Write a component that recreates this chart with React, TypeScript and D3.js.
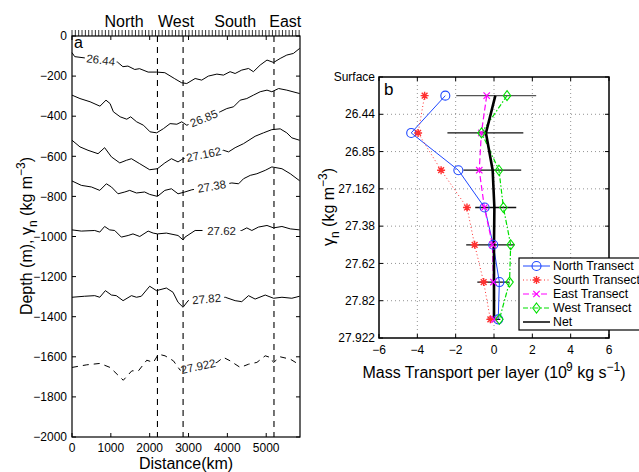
import React, { useRef, useEffect } from "react";
import * as d3 from "d3";

const W = 639;
const H = 472;
const FONT = "'Liberation Sans', Arial, Helvetica, sans-serif";

// ---- panel a: isopycnal depths along the section [km, m]
const iso2644: [number, number][] = [
  [0, -83], [70, -103], [1170, -130], [1310, -153], [1440, -150], [1615, -167], [1740, -163],
  [1960, -180], [2175, -180], [2390, -183], [2645, -213], [2820, -233], [2955, -237], [3170, -212],
  [3340, -220], [3510, -200], [3730, -190], [3900, -195], [4070, -178], [4200, -187], [4370, -170],
  [4545, -162], [4670, -178], [4845, -145], [5020, -120], [5190, -132], [5360, -112], [5530, -95],
  [5700, -87], [5860, -62],
];
const iso2685: [number, number][] = [
  [0, -295], [205, -312], [465, -328], [720, -350], [875, -320], [980, -337], [1065, -378],
  [1240, -403], [1410, -415], [1510, -403], [1665, -428], [1840, -445], [2010, -478], [2180, -483],
  [2355, -462], [2525, -437], [2700, -440], [2825, -428], [2955, -445], [3815, -378], [3985, -362],
  [4160, -353], [4330, -320], [4500, -312], [4670, -295], [4845, -278], [5020, -270], [5145, -278],
  [5320, -262], [5530, -270], [5860, -287],
];
const iso27162: [number, number][] = [
  [0, -520], [205, -553], [412, -570], [670, -587], [840, -557], [1015, -603], [1230, -633],
  [1400, -620], [1530, -612], [1745, -637], [2000, -667], [2200, -662], [2390, -633], [2560, -612],
  [2730, -628], [2860, -612], [3900, -570], [4030, -578], [4200, -557], [4415, -537], [4715, -500],
  [4930, -483], [5145, -467], [5360, -463], [5530, -483], [5660, -508], [5860, -520],
];
const iso2738: [number, number][] = [
  [0, -723], [240, -745], [500, -753], [715, -770], [885, -737], [1015, -753], [1185, -787],
  [1360, -778], [1485, -770], [1660, -783], [1870, -778], [2000, -790], [2200, -800], [2390, -770],
  [2560, -762], [2730, -787], [2905, -778], [3085, -767], [4115, -733], [4290, -737], [4415, -712],
  [4590, -695], [4760, -687], [4975, -670], [5145, -653], [5405, -662], [5620, -687], [5860, -722],
];
const iso2762: [number, number][] = [
  [0, -967], [240, -973], [585, -970], [715, -978], [840, -950], [970, -967], [1100, -970],
  [1270, -1003], [1445, -995], [1570, -987], [1745, -1000], [1960, -973], [2090, -983], [2200, -987],
  [2430, -983], [2730, -995], [2860, -1017], [2910, -1003], [3170, -970], [4370, -970], [4500, -957],
  [4630, -970], [4800, -953], [5020, -945], [5190, -957], [5405, -950], [5620, -962], [5860, -967],
];
const iso2782: [number, number][] = [
  [0, -1303], [325, -1298], [585, -1295], [715, -1303], [860, -1270], [1015, -1292], [1140, -1295],
  [1315, -1320], [1530, -1295], [1660, -1303], [1785, -1298], [2000, -1248], [2175, -1270],
  [2430, -1257], [2600, -1278], [2730, -1328], [2860, -1353], [2990, -1320], [3945, -1303],
  [4200, -1320], [4370, -1325], [4545, -1295], [4715, -1312], [4975, -1292], [5190, -1308],
  [5405, -1303], [5660, -1308], [5860, -1298],
];
const iso27922: [number, number][] = [
  [0, -1653], [380, -1640], [720, -1633], [980, -1653], [1320, -1717], [1540, -1670], [1710, -1670],
  [1925, -1617], [2095, -1628], [2225, -1587], [2395, -1595], [2610, -1620], [2785, -1667],
  [3730, -1628], [3900, -1603], [4070, -1620], [4330, -1653], [4545, -1637], [4760, -1628],
  [4975, -1595], [5100, -1603], [5190, -1628], [5360, -1600], [5620, -1612], [5860, -1640],
];
const isoLabels = ["26.44", "26.85", "27.162", "27.38", "27.62", "27.82", "27.922"];
const labelGaps: [number, number][] = [
  [330, 1150], [3000, 3790], [2900, 3880], [3140, 4050], [3360, 4340], [3010, 3920], [2800, 3700],
];
const sectionNames = ["North", "West", "South", "East"];
const sectionLabelKm = [1340, 2680, 4200, 5490];
const sectionBreaksKm = [2200, 2860, 5200];
const distTicks = [0, 1000, 2000, 3000, 4000, 5000];
const depthTicks = [0, -200, -400, -600, -800, -1000, -1200, -1400, -1600, -1800, -2000];
const stationStepKm = 86;

// ---- panel b: transport per density layer (10^9 kg/s)
const densityTicks = ["Surface", "26.44", "26.85", "27.162", "27.38", "27.62", "27.82", "27.922"];
const northT = [-2.54, -4.32, -1.86, -0.49, -0.04, 0.28, 0.22];
const southT = [-3.62, -3.96, -2.76, -1.41, -1.01, -0.54, -0.19];
const eastT = [-0.38, -0.66, -0.77, -0.5, -0.08, -0.03, 0.02];
const westT = [0.68, -0.65, 0.26, 0.49, 0.87, 0.81, 0.28];
const netT = [0.07, -0.42, -0.07, 0.02, 0.0, 0.0, 0.0];
const errLo = [-1.97, -2.43, -1.6, -0.98, -1.45, -0.87, -0.36];
const errHi = [2.2, 1.53, 1.42, 1.16, 1.06, 0.8, 0.33];
const transportTicks = [-6, -4, -2, 0, 2, 4, 6];

const minus = (v: number) => (v < 0 ? "\u2212" + Math.abs(v) : String(v));

function marker(g: any, kind: string, x: number, y: number, color: string) {
  if (kind === "circle") {
    g.append("circle").attr("cx", x).attr("cy", y).attr("r", 4.5)
      .attr("fill", "none").attr("stroke", color).attr("stroke-width", 1.1);
  } else if (kind === "diamond") {
    const s = 5;
    g.append("path").attr("d", `M${x},${y - s}L${x + s * 0.75},${y}L${x},${y + s}L${x - s * 0.75},${y}Z`)
      .attr("fill", "none").attr("stroke", color).attr("stroke-width", 1.1);
  } else if (kind === "x") {
    const s = 3.2;
    g.append("path").attr("d", `M${x - s},${y - s}L${x + s},${y + s}M${x - s},${y + s}L${x + s},${y - s}`)
      .attr("stroke", color).attr("stroke-width", 1.2);
  } else if (kind === "star") {
    const s = 4, d = s * 0.72;
    g.append("path")
      .attr("d", `M${x - s},${y}L${x + s},${y}M${x},${y - s}L${x},${y + s}M${x - d},${y - d}L${x + d},${y + d}M${x - d},${y + d}L${x + d},${y - d}`)
      .attr("stroke", color).attr("stroke-width", 1.4);
  }
}

function drawPanelA(g: any) {
  const xa = d3.scaleLinear().domain([0, 5870]).range([72, 300]);
  const ya = d3.scaleLinear().domain([0, -2000]).range([36, 437]);
  const line = d3.line<[number, number]>().x(d => xa(d[0])).y(d => ya(d[1]));

  // station ticks along the top
  g.selectAll(".stn").data(d3.range(0, 5870, stationStepKm)).join("line")
    .attr("x1", (d: number) => xa(d)).attr("x2", (d: number) => xa(d))
    .attr("y1", 30).attr("y2", 36).attr("stroke", "#000").attr("stroke-width", 0.8);

  g.selectAll(".sec").data(sectionNames).join("text")
    .attr("x", (d: string, i: number) => xa(sectionLabelKm[i])).attr("y", 27)
    .attr("text-anchor", "middle").attr("font-size", 16).text((d: string) => d);

  // section boundaries
  g.selectAll(".brk").data(sectionBreaksKm).join("line")
    .attr("x1", (d: number) => xa(d)).attr("x2", (d: number) => xa(d))
    .attr("y1", 36).attr("y2", 437)
    .attr("stroke", "#000").attr("stroke-width", 1.1).attr("stroke-dasharray", "6,5");

  const isos = [iso2644, iso2685, iso27162, iso2738, iso2762, iso2782, iso27922];
  isos.forEach((pts, i) => {
    const at = d3.scaleLinear().domain(pts.map(p => p[0])).range(pts.map(p => p[1]));
    const [g0, g1] = labelGaps[i];
    const before: [number, number][] = [...pts.filter(p => p[0] < g0), [g0, at(g0)]];
    const after: [number, number][] = [[g1, at(g1)], ...pts.filter(p => p[0] > g1)];
    [before, after].forEach(seg => {
      g.append("path").attr("d", line(seg)).attr("fill", "none")
        .attr("stroke", "#000").attr("stroke-width", 1)
        .attr("stroke-dasharray", i === 6 ? "6,5" : null);
    });
    const x0 = xa(g0), y0 = ya(at(g0)), x1 = xa(g1), y1 = ya(at(g1));
    const ang = (Math.atan2(y1 - y0, x1 - x0) * 180) / Math.PI;
    g.append("text")
      .attr("transform", `translate(${(x0 + x1) / 2},${(y0 + y1) / 2}) rotate(${ang})`)
      .attr("text-anchor", "middle").attr("dy", "0.35em").attr("font-size", 11.5)
      .attr("fill", "#222").text(isoLabels[i]);
  });

  // box and ticks
  g.append("rect").attr("x", 72).attr("y", 36).attr("width", 228).attr("height", 401)
    .attr("fill", "none").attr("stroke", "#000").attr("stroke-width", 1.2);
  distTicks.forEach(t => {
    g.append("line").attr("x1", xa(t)).attr("x2", xa(t)).attr("y1", 437).attr("y2", 433).attr("stroke", "#000");
    g.append("line").attr("x1", xa(t)).attr("x2", xa(t)).attr("y1", 36).attr("y2", 40).attr("stroke", "#000");
    g.append("text").attr("x", xa(t)).attr("y", 452).attr("text-anchor", "middle")
      .attr("font-size", 12).text(String(t));
  });
  depthTicks.forEach(t => {
    g.append("line").attr("x1", 72).attr("x2", 76).attr("y1", ya(t)).attr("y2", ya(t)).attr("stroke", "#000");
    g.append("line").attr("x1", 300).attr("x2", 296).attr("y1", ya(t)).attr("y2", ya(t)).attr("stroke", "#000");
    g.append("text").attr("x", 67).attr("y", ya(t)).attr("dy", "0.35em").attr("text-anchor", "end")
      .attr("font-size", 12).text(minus(t));
  });
  g.append("text").attr("x", 74).attr("y", 48).attr("font-size", 16).text("a");

  g.append("text").attr("x", 186).attr("y", 469).attr("text-anchor", "middle")
    .attr("font-size", 16).text("Distance(km)");

  const yl = g.append("text").attr("transform", "translate(32,236) rotate(-90)")
    .attr("text-anchor", "middle").attr("font-size", 16);
  yl.append("tspan").text("Depth (m), \u03b3");
  yl.append("tspan").attr("dy", 5).attr("font-size", 12).text("n");
  yl.append("tspan").attr("dy", -5).text(" (kg m");
  yl.append("tspan").attr("dy", -7).attr("font-size", 12).text("\u22123");
  yl.append("tspan").attr("dy", 7).text(")");
}

function drawPanelB(g: any) {
  const xb = d3.scaleLinear().domain([-6, 6]).range([379, 609]);
  const yb = d3.scaleLinear().domain([0, densityTicks.length - 1]).range([77, 338]);
  const ly = (i: number) => yb(i + 0.5);

  // grid
  transportTicks.slice(1, -1).forEach(t => {
    g.append("line").attr("x1", xb(t)).attr("x2", xb(t)).attr("y1", 77).attr("y2", 338)
      .attr("stroke", "#777").attr("stroke-width", 0.8).attr("stroke-dasharray", "1,3");
  });
  densityTicks.slice(1, -1).forEach((d, i) => {
    g.append("line").attr("x1", 379).attr("x2", 609).attr("y1", yb(i + 1)).attr("y2", yb(i + 1))
      .attr("stroke", "#777").attr("stroke-width", 0.8).attr("stroke-dasharray", "1,3");
  });

  const series = [
    { name: "North Transect", vals: northT, color: "#1f48ff", dash: null, mk: "circle", w: 1 },
    { name: "Sourth Transect", vals: southT, color: "#ff3030", dash: "1,2.5", mk: "star", w: 1 },
    { name: "East Transect", vals: eastT, color: "#ff00ff", dash: "6,3", mk: "x", w: 1.2 },
    { name: "West Transect", vals: westT, color: "#00e000", dash: "5,2,1.5,2", mk: "diamond", w: 1.2 },
  ];
  const lineB = d3.line<number>().x(d => xb(d)).y((d, i) => ly(i));

  // error bars
  errLo.forEach((lo, i) => {
    g.append("line").attr("x1", xb(lo)).attr("x2", xb(errHi[i])).attr("y1", ly(i)).attr("y2", ly(i))
      .attr("stroke", i === 0 ? "#555" : "#111").attr("stroke-width", 1.3);
  });

  series.forEach(s => {
    g.append("path").attr("d", lineB(s.vals)).attr("fill", "none")
      .attr("stroke", s.color).attr("stroke-width", s.w).attr("stroke-dasharray", s.dash);
  });
  g.append("path").attr("d", lineB(netT)).attr("fill", "none").attr("stroke", "#000").attr("stroke-width", 2.6);
  series.forEach(s => s.vals.forEach((v, i) => marker(g, s.mk, xb(v), ly(i), s.color)));

  // box, ticks
  g.append("rect").attr("x", 379).attr("y", 77).attr("width", 230).attr("height", 261)
    .attr("fill", "none").attr("stroke", "#000").attr("stroke-width", 1.5);
  transportTicks.forEach(t => {
    g.append("line").attr("x1", xb(t)).attr("x2", xb(t)).attr("y1", 338).attr("y2", 334).attr("stroke", "#000");
    g.append("line").attr("x1", xb(t)).attr("x2", xb(t)).attr("y1", 77).attr("y2", 81).attr("stroke", "#000");
    g.append("text").attr("x", xb(t)).attr("y", 354).attr("text-anchor", "middle")
      .attr("font-size", 12).text(minus(t));
  });
  densityTicks.forEach((d, i) => {
    g.append("line").attr("x1", 379).attr("x2", 383).attr("y1", yb(i)).attr("y2", yb(i)).attr("stroke", "#000");
    g.append("line").attr("x1", 609).attr("x2", 605).attr("y1", yb(i)).attr("y2", yb(i)).attr("stroke", "#000");
    g.append("text").attr("x", 375).attr("y", yb(i)).attr("dy", "0.35em").attr("text-anchor", "end")
      .attr("font-size", 12).text(d);
  });
  g.append("text").attr("x", 384).attr("y", 95).attr("font-size", 17).text("b");

  const xl = g.append("text").attr("x", 494).attr("y", 378).attr("text-anchor", "middle").attr("font-size", 16);
  xl.append("tspan").text("Mass Transport per layer (10");
  xl.append("tspan").attr("dy", -7).attr("dx", -1).attr("font-size", 12).text("9");
  xl.append("tspan").attr("dy", 7).text(" kg s");
  xl.append("tspan").attr("dy", -7).attr("font-size", 12).text("\u22121");
  xl.append("tspan").attr("dy", 7).text(")");

  const yl = g.append("text").attr("transform", "translate(334,207) rotate(-90)")
    .attr("text-anchor", "middle").attr("font-size", 16);
  yl.append("tspan").text("\u03b3");
  yl.append("tspan").attr("dy", 5).attr("font-size", 12).text("n");
  yl.append("tspan").attr("dy", -5).text(" (kg m");
  yl.append("tspan").attr("dy", -7).attr("font-size", 12).text("\u22123");
  yl.append("tspan").attr("dy", 7).text(")");

  // legend
  const lg = g.append("g");
  lg.append("rect").attr("x", 519).attr("y", 258).attr("width", 130).attr("height", 72)
    .attr("fill", "#fff").attr("stroke", "#000").attr("stroke-width", 1.2);
  const items = [...series, { name: "Net", vals: netT, color: "#000", dash: null, mk: "", w: 1.5 }];
  items.forEach((s, i) => {
    const y = 266 + i * 14;
    lg.append("line").attr("x1", 523).attr("x2", 550).attr("y1", y).attr("y2", y)
      .attr("stroke", s.color).attr("stroke-width", s.w).attr("stroke-dasharray", s.dash);
    if (s.mk) marker(lg, s.mk, 536.5, y, s.color);
    lg.append("text").attr("x", 553).attr("y", y).attr("dy", "0.35em").attr("font-size", 12.3).text(s.name);
  });
}

export default function App() {
  const ref = useRef<SVGSVGElement>(null);

  useEffect(() => {
    const svg = d3.select(ref.current);
    svg.selectAll("*").remove();
    svg.attr("width", W).attr("height", H).style("font-family", FONT);
    svg.append("rect").attr("width", W).attr("height", H).attr("fill", "#fff");
    drawPanelA(svg.append("g"));
    drawPanelB(svg.append("g"));
  }, []);

  return <svg ref={ref} style={{ position: "absolute", left: 0, top: 0 }} />;
}
